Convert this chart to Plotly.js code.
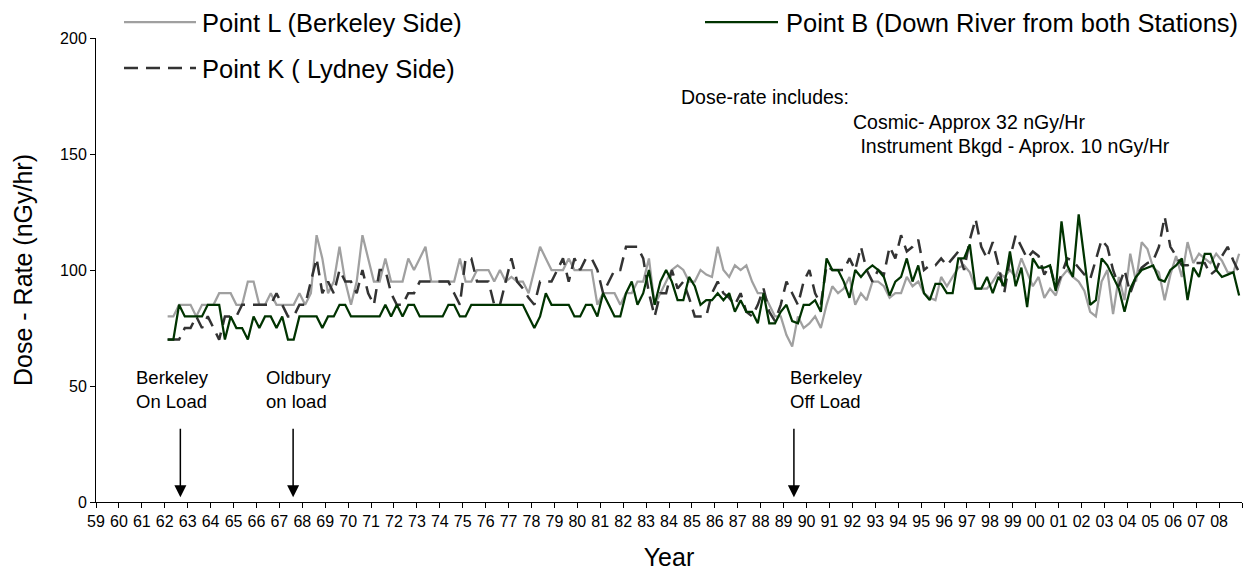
<!DOCTYPE html>
<html>
<head>
<meta charset="utf-8">
<script src="https://cdn.plot.ly/plotly-3.0.1.min.js"></script>
<style>
  html, body { margin: 0; padding: 0; background: #ffffff; }
  #chart { width: 1243px; height: 574px; }
</style>
</head>
<body>
<div id="chart"></div>
<script>
// ---- data (quarterly readings, nGy/hr) ----
const firstSample = 1962.125;   // first quarterly reading (decimal year)
const sampleStep = 0.25;        // one reading per quarter

const yearTicks = [1959,1960,1961,1962,1963,1964,1965,1966,1967,1968,1969,1970,1971,1972,1973,1974,1975,1976,1977,1978,1979,1980,1981,1982,1983,1984,1985,1986,1987,1988,1989,1990,1991,1992,1993,1994,1995,1996,1997,1998,1999,2000,2001,2002,2003,2004,2005,2006,2007,2008,2009];
const yearLabels = ["59","60","61","62","63","64","65","66","67","68","69","70","71","72","73","74","75","76","77","78","79","80","81","82","83","84","85","86","87","88","89","90","91","92","93","94","95","96","97","98","99","00","01","02","03","04","05","06","07","08",""];

const pointL = [
  80,80,85,85,85,80,85,85,85,90, 90,90,85,85,95,95,85,85,90,85,
  85,85,85,90,85,90,115,105,90,95, 110,95,85,95,115,105,95,95,105,95,
  95,95,105,100,105,110,95,95,95,95, 95,105,95,95,100,100,100,95,100,95,
  97,95,95,90,100,110,105,100,100,100, 105,100,100,100,100,85,90,90,90,85,
  90,90,95,95,105,85,90,95,100,102, 100,95,95,100,98,97,110,100,97,102,
  100,102,95,90,90,85,80,80,72,67, 80,75,77,80,75,85,93,90,92,97,
  85,90,87,95,
  95,93,88,90,90,97,93,95,90,88, 87,97,93,97,101,102,99,92,92,92,
  95,99,97,100,97,105,99,93,97,88, 92,89,97,100,97,95,91,82,80,95,
  100,81,97,87,107,95,112,109,101,99, 87,98,106,97,112,103,107,105,103,107,
  104,99,99,107
];

const pointK = [
  70,70,70,75,75,80,75,80,75,70, 80,80,80,85,85,85,85,85,85,90,
  85,80,80,85,85,95,105,90,95,90, 100,95,95,90,100,90,85,100,100,90,
  85,85,90,90,95,95,95,95,95,95, 90,85,105,105,95,95,95,85,85,95,
  105,95,92,88,85,95,95,95,100,105, 95,105,100,105,105,100,90,95,100,100,
  110,110,110,105,90,80,90,90,100,92, 95,88,80,80,80,90,95,90,88,85,
  90,82,80,85,92,82,78,85,95,90, 85,95,100,90,85,102,100,100,100,105,
  100,110,100,95,
  100,98,110,105,115,108,110,113,100,102, 102,105,102,105,108,100,113,122,110,105,
  112,102,90,105,115,110,105,108,106,98, 102,92,98,105,104,101,98,96,104,113,
  110,100,93,100,90,97,101,103,104,110, 123,110,106,102,102,103,103,103,98,100,
  106,110,104,99
];

const pointB = [
  70,70,85,80,80,80,80,85,85,85, 70,80,75,75,70,80,75,80,80,75,
  80,70,70,80,80,80,80,75,80,80, 85,85,80,80,80,80,80,80,85,80,
  85,80,85,85,80,80,80,80,80,85, 85,80,80,85,85,85,85,85,85,85,
  85,85,85,80,75,80,90,85,85,85, 85,80,80,85,85,80,90,85,80,80,
  90,95,85,90,100,85,95,100,95,87, 87,97,93,85,87,87,90,87,90,82,
  87,82,82,77,90,77,77,82,85,78, 77,85,85,87,82,105,100,100,95,88,
  100,97,100,102,
  100,97,89,95,97,105,95,102,90,87, 94,94,90,90,105,105,111,92,92,97,
  90,97,93,108,93,101,84,105,101,101, 102,91,121,102,97,124,105,85,87,105,
  102,97,92,82,92,97,100,101,102,96, 95,100,102,105,87,101,97,107,107,100,
  97,98,99,89
];

const seriesNames = ["Point L (Berkeley Side)", "Point K ( Lydney Side)", "Point B (Down River from both Stations)"];
const eventYears = [1962.68, 1967.6, 1989.45];
const eventLabels = ["Berkeley<br>On Load", "Oldbury<br>on load", "Berkeley<br>Off Load"];
const noteLines = ["Dose-rate includes:", "Cosmic- Approx 32 nGy/Hr", " Instrument Bkgd - Aprox. 10 nGy/Hr"];

// ---- build ----
const sampleX = pointL.map((_, i) => firstSample + i * sampleStep);
const FONT = "Liberation Sans, Arial, sans-serif";
const GRAY = "#a0a0a0", DARK = "#333333", GREEN = "#003300";

const traces = [
  { x: sampleX, y: pointL, name: seriesNames[0], type: "scatter", mode: "lines",
    line: { color: GRAY, width: 2.25 }, hoverinfo: "skip" },
  { x: sampleX, y: pointK, name: seriesNames[1], type: "scatter", mode: "lines",
    line: { color: DARK, width: 2.5, dash: "14px,8px" }, hoverinfo: "skip" },
  { x: sampleX, y: pointB, name: seriesNames[2], type: "scatter", mode: "lines",
    line: { color: GREEN, width: 2.25 }, hoverinfo: "skip" }
];

// plot area in pixels: x 96..1242, y 38..502
const L = 96, R = 1242, T = 38, B = 502;
const px = v => (v - L) / (R - L);
const py = v => (B - v) / (B - T);

const shapes = [
  { type: "line", xref: "paper", yref: "paper", x0: px(124), x1: px(196), y0: py(22), y1: py(22),
    line: { color: GRAY, width: 2.25 } },
  { type: "line", xref: "paper", yref: "paper", x0: px(124), x1: px(196), y0: py(68), y1: py(68),
    line: { color: DARK, width: 2.5, dash: "14px,8px" } },
  { type: "line", xref: "paper", yref: "paper", x0: px(705), x1: px(778), y0: py(22), y1: py(22),
    line: { color: GREEN, width: 2.25 } }
];

const LEG = 25.5, NOTE = 19.5, EVT = 18.5;
const annotations = [
  { xref: "paper", yref: "paper", x: px(200), y: py(23), xanchor: "left", yanchor: "middle",
    text: seriesNames[0], showarrow: false, font: { family: FONT, size: LEG, color: "#000" } },
  { xref: "paper", yref: "paper", x: px(200), y: py(69), xanchor: "left", yanchor: "middle",
    text: seriesNames[1], showarrow: false, font: { family: FONT, size: LEG, color: "#000" } },
  { xref: "paper", yref: "paper", x: px(784), y: py(23), xanchor: "left", yanchor: "middle",
    text: seriesNames[2], showarrow: false, font: { family: FONT, size: LEG, color: "#000" } },
  { xref: "paper", yref: "paper", x: px(679), y: py(97), xanchor: "left", yanchor: "middle",
    text: noteLines[0], showarrow: false, font: { family: FONT, size: NOTE, color: "#000" } },
  { xref: "paper", yref: "paper", x: px(851), y: py(122), xanchor: "left", yanchor: "middle",
    text: noteLines[1], showarrow: false, font: { family: FONT, size: NOTE, color: "#000" } },
  { xref: "paper", yref: "paper", x: px(853), y: py(146), xanchor: "left", yanchor: "middle",
    text: noteLines[2], showarrow: false, font: { family: FONT, size: NOTE, color: "#000" } }
];

const labelLeft = [134, 264, 788];
eventYears.forEach((yr, i) => {
  annotations.push({
    x: yr, y: 2, xref: "x", yref: "y", text: "", showarrow: true,
    ax: 0, ay: -70, arrowhead: 2, arrowsize: 1.6, arrowwidth: 1.5, arrowcolor: "#000"
  });
  annotations.push({
    xref: "paper", yref: "paper", x: px(labelLeft[i]), y: py(389), xanchor: "left", yanchor: "middle",
    align: "left", text: eventLabels[i], showarrow: false,
    font: { family: FONT, size: EVT, color: "#000" }
  });
});

const layout = {
  width: 1243, height: 574,
  margin: { l: L, r: 1243 - R, t: T, b: 574 - B },
  paper_bgcolor: "#ffffff", plot_bgcolor: "#ffffff",
  showlegend: false,
  font: { family: FONT, color: "#000" },
  xaxis: {
    range: [1959, 2009], tickmode: "array", tickvals: yearTicks, ticktext: yearLabels,
    ticks: "outside", ticklen: 5, tickwidth: 1, tickcolor: "#000",
    showline: true, linecolor: "#000", linewidth: 1, showgrid: false, zeroline: false,
    tickfont: { family: FONT, size: 16, color: "#000" }, tickangle: 0,
    title: { text: "Year", font: { family: FONT, size: 25, color: "#000" }, standoff: 19 }
  },
  yaxis: {
    range: [0, 200], tickmode: "array", tickvals: [0, 50, 100, 150, 200],
    ticks: "outside", ticklen: 5, tickwidth: 1, tickcolor: "#000",
    showline: true, linecolor: "#000", linewidth: 1, showgrid: false, zeroline: false,
    tickfont: { family: FONT, size: 16, color: "#000" },
    title: { text: "Dose - Rate (nGy/hr)", font: { family: FONT, size: 25, color: "#000" }, standoff: 20 }
  },
  shapes: shapes,
  annotations: annotations
};

Plotly.newPlot("chart", traces, layout, { displayModeBar: false, staticPlot: true });
</script>
</body>
</html>
